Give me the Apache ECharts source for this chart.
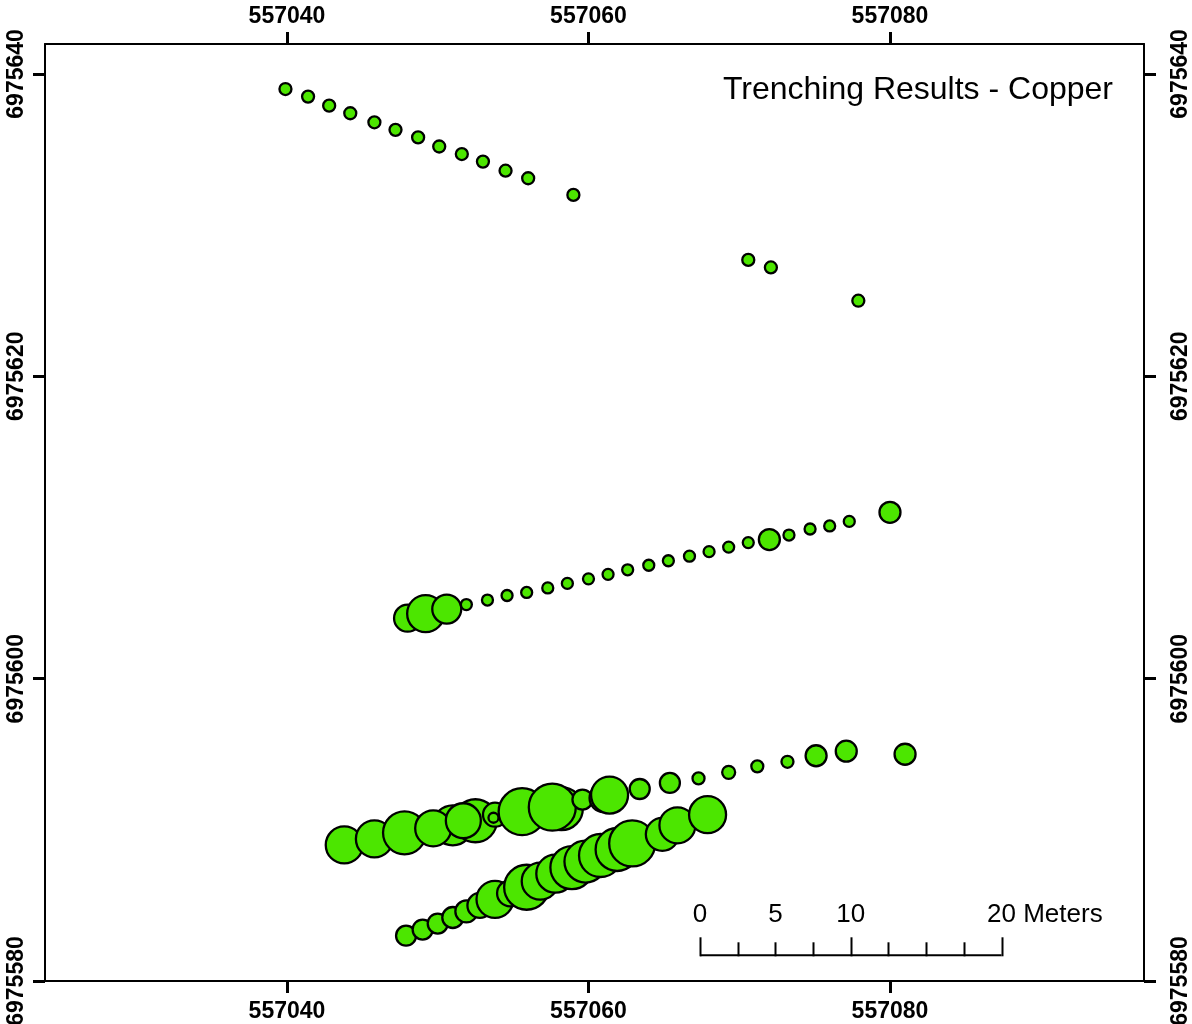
<!DOCTYPE html>
<html><head><meta charset="utf-8">
<script src="https://cdn.jsdelivr.net/npm/echarts@6/dist/echarts.min.js"></script>
<style>html,body{margin:0;padding:0;background:#fff}#c{width:1192px;height:1024px}</style>
</head><body><div id="c"></div>
<script>
// Tick values
const xTicks = [557040, 557060, 557080];
const yTicks = [6975580, 6975600, 6975620, 6975640];
const titleText = 'Trenching Results - Copper';
const scaleLabels = ['0', '5', '10', '20 Meters'];
const scaleLabelMeters = [0, 5, 10, 20];

// Trench samples: [easting, northing, Cu value]
const trenchA = [
  [557039.9, 6975639.0, 1.0], [557041.4, 6975638.5, 1.0], [557042.8, 6975637.9, 1.0],
  [557044.2, 6975637.4, 1.0], [557045.8, 6975636.8, 1.0], [557047.2, 6975636.3, 1.0],
  [557048.7, 6975635.8, 1.0], [557050.1, 6975635.2, 1.0], [557051.6, 6975634.7, 1.0],
  [557053.0, 6975634.2, 1.0], [557054.5, 6975633.6, 1.0], [557056.0, 6975633.1, 1.0],
  [557059.0, 6975632.0, 1.0], [557070.6, 6975627.7, 1.0], [557072.1, 6975627.2, 1.0],
  [557077.9, 6975625.0, 1.0]
];
const trenchB = [
  [557048.0, 6975604.0, 2.5], [557049.2, 6975604.3, 3.5], [557050.6, 6975604.6, 2.7],
  [557051.9, 6975604.9, 0.9], [557053.3, 6975605.2, 0.9], [557054.6, 6975605.5, 0.9],
  [557055.9, 6975605.7, 0.9], [557057.3, 6975606.0, 0.9], [557058.6, 6975606.3, 0.9],
  [557060.0, 6975606.6, 0.9], [557061.3, 6975606.9, 0.9], [557062.6, 6975607.2, 0.9],
  [557064.0, 6975607.5, 0.9], [557065.3, 6975607.8, 0.9], [557066.7, 6975608.1, 0.9],
  [557068.0, 6975608.4, 0.9], [557069.3, 6975608.7, 0.9], [557070.6, 6975609.0, 0.9],
  [557072.0, 6975609.2, 1.9], [557073.3, 6975609.5, 0.9], [557074.7, 6975609.9, 0.9],
  [557076.0, 6975610.1, 0.9], [557077.3, 6975610.4, 0.9], [557080.0, 6975611.0, 1.9]
];
const trenchC = [
  [557043.8, 6975589.0, 3.5], [557045.8, 6975589.4, 3.5], [557047.8, 6975589.8, 4.1],
  [557051.0, 6975590.3, 3.8], [557052.5, 6975590.6, 4.1], [557049.7, 6975590.1, 3.4],
  [557051.7, 6975590.6, 3.3], [557053.8, 6975591.0, 2.2], [557053.7, 6975590.8, 0.8],
  [557055.6, 6975591.2, 4.5], [557058.2, 6975591.4, 4.1], [557057.6, 6975591.5, 4.5],
  [557059.6, 6975592.0, 1.8], [557061.0, 6975592.1, 2.6], [557061.4, 6975592.3, 3.5],
  [557063.4, 6975592.7, 1.8], [557065.4, 6975593.1, 1.8], [557067.3, 6975593.4, 1.0],
  [557069.3, 6975593.8, 1.1], [557071.2, 6975594.2, 1.0], [557073.2, 6975594.5, 1.0],
  [557075.1, 6975594.9, 1.9], [557077.1, 6975595.2, 1.9], [557081.0, 6975595.0, 1.9]
];
const trenchD = [
  [557047.9, 6975583.0, 1.8], [557049.0, 6975583.4, 1.8], [557050.0, 6975583.8, 1.8],
  [557051.0, 6975584.2, 1.9], [557051.9, 6975584.6, 2.0], [557052.8, 6975585.0, 2.3],
  [557053.8, 6975585.4, 3.5], [557054.8, 6975585.8, 2.4], [557055.9, 6975586.2, 4.3],
  [557056.8, 6975586.6, 3.5], [557057.8, 6975587.1, 3.6], [557058.9, 6975587.5, 4.1],
  [557059.8, 6975587.9, 4.0], [557060.8, 6975588.3, 4.1], [557061.9, 6975588.7, 4.1],
  [557063.8, 6975589.4, 2.1], [557062.9, 6975589.1, 4.4], [557064.9, 6975589.7, 3.1],
  [557065.9, 6975590.3, 3.4], [557067.9, 6975591.0, 3.5]
];
const scaleBarOrigin = [557067.4, 6975581.7];

const FONT = 'Liberation Sans, Arial, sans-serif';
const chart = echarts.init(document.getElementById('c'), null, {renderer: 'canvas'});

function xAxisCfg(pos, margin) {
  return {
    type: 'value', position: pos, min: 557023.95, max: 557096.85,
    axisLine: {show: true, onZero: false, lineStyle: {color: '#000', width: 2}},
    axisTick: {show: true, length: 12, customValues: xTicks, lineStyle: {color: '#000', width: 3}},
    axisLabel: {customValues: xTicks, formatter: v => String(v), color: '#000',
      fontSize: 23, fontWeight: 'bold', fontFamily: FONT, margin: margin},
    splitLine: {show: false}
  };
}
function yAxisCfg(pos, margin) {
  return {
    type: 'value', position: pos, min: 6975580, max: 6975641.98,
    axisLine: {show: true, onZero: false, lineStyle: {color: '#000', width: 2}},
    axisTick: {show: true, length: 12, customValues: yTicks, lineStyle: {color: '#000', width: 3}},
    axisLabel: {customValues: yTicks, formatter: v => String(v), color: '#000', rotate: 90,
      fontSize: 23, fontWeight: 'bold', fontFamily: FONT, margin: margin},
    splitLine: {show: false}
  };
}
function seriesCfg(data) {
  return {
    type: 'scatter', data: data, xAxisIndex: 0, yAxisIndex: 0,
    symbol: 'circle', symbolSize: d => d[2] * 10 + 2,
    itemStyle: {color: '#4CE600', borderColor: '#000', borderWidth: 2.3, opacity: 1},
    emphasis: {disabled: true}, silent: true
  };
}

chart.setOption({
  animation: false,
  backgroundColor: '#fff',
  title: {text: titleText, right: 79, top: 74, padding: 0,
    textStyle: {fontSize: 32, fontWeight: 'normal', fontFamily: FONT, color: '#000'}},
  grid: {left: 45, right: 48, top: 44, bottom: 43, outerBoundsMode: 'none', containLabel: false},
  xAxis: [xAxisCfg('bottom', 19), xAxisCfg('top', 16)],
  yAxis: [yAxisCfg('left', 17), yAxisCfg('right', 25)],
  series: [seriesCfg(trenchA), seriesCfg(trenchB), seriesCfg(trenchC), seriesCfg(trenchD)]
});

// Scale bar drawn from the map scale
const p0 = chart.convertToPixel({gridIndex: 0}, scaleBarOrigin);
const p20 = chart.convertToPixel({gridIndex: 0}, [scaleBarOrigin[0] + 20, scaleBarOrigin[1]]);
const pxPerM = (p20[0] - p0[0]) / 20;
const els = [];
els.push({type: 'line', shape: {x1: p0[0], y1: p0[1], x2: p20[0], y2: p0[1]},
  style: {stroke: '#000', lineWidth: 2}});
for (let i = 0; i <= 8; i++) {
  const m = i * 2.5;
  const major = (m === 0 || m === 10 || m === 20);
  const x = Math.round(p0[0] + m * pxPerM) + 0.5;
  els.push({type: 'line', shape: {x1: x, y1: p0[1] + 1, x2: x, y2: p0[1] - (major ? 18 : 13)},
    style: {stroke: '#000', lineWidth: 2}});
}
scaleLabels.forEach((t, i) => {
  const x = p0[0] + scaleLabelMeters[i] * pxPerM;
  const isLast = i === scaleLabels.length - 1;
  els.push({type: 'text', x: isLast ? x - 14.5 : x, y: p0[1] - 40,
    style: {text: t, fill: '#000', font: 'normal 26px ' + FONT,
      align: isLast ? 'left' : 'center', verticalAlign: 'middle'}});
});
chart.setOption({graphic: {elements: els}});
</script>
</body></html>
